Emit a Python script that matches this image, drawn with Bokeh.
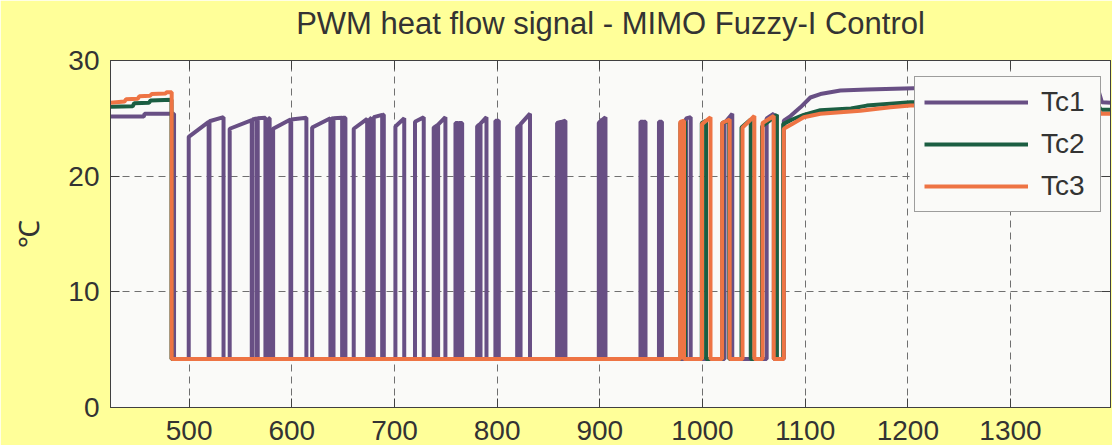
from bokeh.plotting import figure
from bokeh.models import Range1d, FixedTicker, LinearAxis, Legend, LegendItem
from bokeh.embed import file_html
from bokeh.resources import INLINE

# ---------------- data ----------------
title_text = "PWM heat flow signal - MIMO Fuzzy-I Control"
y_label = "℃"
x_ticks = [500, 600, 700, 800, 900, 1000, 1100, 1200, 1300]
y_ticks = [0, 10, 20, 30]
series_names = ["Tc1", "Tc2", "Tc3"]
low_level = 4.2

# Tc1
tc1_head_x = [423.4, 455.8, 456.6, 485.3]
tc1_head_y = [25.15, 25.15, 25.4, 25.4]
tc1_on = [499.6, 519.8, 539.5, 561.8, 566.8, 577.6, 581.8, 599.4, 619.8, 639.0,
          640.6, 649.6, 660.3, 676.3, 679.8, 688.6, 700.9, 720.0, 738.2, 742.5,
          759.4, 763.0, 780.5, 783.8, 798.3, 819.5, 822.8, 858.4, 862.8, 899.0,
          902.8, 939.6, 942.6, 957.6, 984.0, 1021.5, 1062.5]
tc1_off = [519.0, 533.5, 561.0, 566.0, 574.3, 578.4, 598.7, 614.2, 637.6, 639.6,
           649.0, 652.2, 673.4, 677.0, 688.0, 689.6, 709.5, 728.5, 741.8, 749.6,
           762.2, 765.9, 783.0, 789.6, 801.6, 822.0, 832.0, 862.0, 866.5, 902.0,
           905.5, 942.0, 944.5, 960.5, 988.5, 1029.0, 1069.5]
tc1_top_on = [23.4, 24.75, 24.1, 24.9, 25.0, 25.0, 24.1, 24.9, 24.2, 25.0,
              25.0, 25.05, 24.1, 25.0, 25.1, 25.3, 24.3, 24.7, 24.2, 24.45,
              24.6, 24.6, 24.3, 24.55, 24.8, 24.2, 24.5, 24.6, 24.7, 24.6,
              24.9, 24.7, 24.7, 24.7, 25.0, 24.6, 25.0]
tc1_top_off = [24.7, 25.1, 24.85, 25.0, 25.05, 25.0, 24.9, 25.05, 25.0, 25.0,
               25.05, 25.05, 24.95, 25.0, 25.3, 25.3, 25.0, 25.1, 24.4, 25.1,
               24.6, 24.6, 24.5, 25.1, 24.8, 24.4, 25.4, 24.7, 24.8, 24.9,
               25.1, 24.7, 24.7, 24.7, 25.1, 25.4, 25.4]
tc1_tail_x = [1079.2, 1085.7, 1095.4, 1105.1, 1114.8, 1134.3, 1160.3, 1205.5, 1385.0, 1389.0, 1398.0]
tc1_tail_y = [24.8, 25.2, 25.95, 26.8, 27.1, 27.4, 27.5, 27.6, 27.6, 26.4, 26.35]

# Tc2
tc2_head_x = [423.4, 445.0, 446.5, 461.0, 462.5, 482.8]
tc2_head_y = [26.0, 26.05, 26.3, 26.35, 26.55, 26.6]
tc2_on = [978.5, 999.3, 1019.3, 1038.0, 1058.0]
tc2_off = [983.0, 1003.5, 1026.0, 1047.0, 1072.5]
tc2_top_on = [24.6, 24.6, 24.6, 24.2, 24.3]
tc2_top_off = [24.7, 24.8, 24.8, 24.9, 25.3]
tc2_tail_x = [1078.6, 1087.3, 1098.6, 1114.8, 1144.6, 1160.0, 1202.5, 1383.0, 1388.0, 1398.0]
tc2_tail_y = [24.5, 24.9, 25.3, 25.7, 25.85, 26.1, 26.4, 26.5, 25.75, 25.75]

# Tc3
tc3_head_x = [423.4, 437.0, 438.5, 450.0, 451.5, 462.0, 463.5, 477.0, 478.0, 483.0]
tc3_head_y = [26.35, 26.45, 26.65, 26.7, 26.9, 26.95, 27.1, 27.15, 27.25, 27.25]
tc3_on = [978.3, 999.5, 1019.1, 1039.0, 1058.5]
tc3_off = [982.0, 1007.8, 1026.5, 1050.5, 1069.4]
tc3_top_on = [24.7, 24.5, 24.6, 24.2, 24.6]
tc3_top_off = [24.8, 25.1, 24.9, 25.2, 25.2]
tc3_tail_x = [1079.2, 1087.3, 1098.6, 1114.8, 1153.8, 1183.0, 1202.5, 1383.0, 1388.0, 1398.0]
tc3_tail_y = [24.1, 24.5, 25.1, 25.4, 25.65, 25.95, 26.1, 26.2, 25.4, 25.4]

colors = ["#684F84", "#1B5E42", "#EE7444"]


def build(head_x, head_y, on, off, top_on, top_off, tail_x, tail_y, low):
    xs = list(head_x) + [head_x[-1]]
    ys = list(head_y) + [low]
    for a, b, ya, yb in zip(on, off, top_on, top_off):
        xs += [a, a, b, b]
        ys += [low, ya, yb, low]
    xs += [tail_x[0]] + list(tail_x)
    ys += [low] + list(tail_y)
    return xs, ys


tc1_x, tc1_y = build(tc1_head_x, tc1_head_y, tc1_on, tc1_off, tc1_top_on, tc1_top_off,
                     tc1_tail_x, tc1_tail_y, low_level)
tc2_x, tc2_y = build(tc2_head_x, tc2_head_y, tc2_on, tc2_off, tc2_top_on, tc2_top_off,
                     tc2_tail_x, tc2_tail_y, low_level)
tc3_x, tc3_y = build(tc3_head_x, tc3_head_y, tc3_on, tc3_off, tc3_top_on, tc3_top_off,
                     tc3_tail_x, tc3_tail_y, low_level)

# ---------------- figure ----------------
FONT = "Liberation Sans"
TXT = "#333333"
AX = "#404040"

p = figure(width=1112, height=445, output_backend="svg", toolbar_location=None,
           x_range=Range1d(423.4, 1397.4), y_range=Range1d(0, 30),
           min_border_left=110, min_border_top=60, min_border_bottom=38, min_border_right=2,
           background_fill_color="#FAFAF8", border_fill_color="#FFFF99",
           outline_line_color=AX, outline_line_width=1)
p.title = None

# bottom / left axes
p.xaxis.ticker = FixedTicker(ticks=x_ticks)
p.yaxis.ticker = FixedTicker(ticks=y_ticks)
for ax in (p.xaxis[0], p.yaxis[0]):
    ax.major_label_text_font = FONT
    ax.major_label_text_font_size = "28px"
    ax.major_label_text_color = TXT
    ax.major_tick_in = 9
    ax.major_tick_out = 0
    ax.minor_tick_line_color = None
    ax.major_tick_line_color = AX
    ax.axis_line_color = AX
p.xaxis.major_label_standoff = 13
p.yaxis.major_label_standoff = 11
p.yaxis.axis_label = y_label
p.yaxis.axis_label_text_font = FONT
p.yaxis.axis_label_text_font_size = "28px"
p.yaxis.axis_label_text_font_style = "normal"
p.yaxis.axis_label_text_color = TXT
p.yaxis.axis_label_standoff = 20

# top axis: tick marks only, carries the chart title as its label
top_ax = LinearAxis(ticker=FixedTicker(ticks=x_ticks), major_label_text_font_size="1px",
                    major_label_text_color=None, major_label_standoff=0,
                    major_tick_in=9, major_tick_out=0,
                    minor_tick_line_color=None, major_tick_line_color=AX, axis_line_color=AX,
                    axis_label=title_text, axis_label_standoff=20,
                    axis_label_text_font=FONT, axis_label_text_font_size="31px",
                    axis_label_text_font_style="normal", axis_label_text_color=TXT)
right_ax = LinearAxis(ticker=FixedTicker(ticks=y_ticks), major_label_text_font_size="1px",
                      major_label_text_color=None, major_label_standoff=0,
                      major_tick_in=9, major_tick_out=0,
                      minor_tick_line_color=None, major_tick_line_color=AX, axis_line_color=AX)
p.add_layout(top_ax, "above")
p.add_layout(right_ax, "right")

# grid
for g in (p.xgrid[0], p.ygrid[0]):
    g.grid_line_color = "#707070"
    g.grid_line_dash = "7 5"
    g.grid_line_width = 1
p.xgrid.ticker = FixedTicker(ticks=x_ticks)
p.ygrid.ticker = FixedTicker(ticks=y_ticks)

# lines
r1 = p.line(tc1_x, tc1_y, line_color=colors[0], line_width=4)
r2 = p.line(tc2_x, tc2_y, line_color=colors[1], line_width=4)
r3 = p.line(tc3_x, tc3_y, line_color=colors[2], line_width=4)

legend = Legend(items=[LegendItem(label=series_names[0], renderers=[r1]),
                       LegendItem(label=series_names[1], renderers=[r2]),
                       LegendItem(label=series_names[2], renderers=[r3])],
                location=(804, 195),
                label_text_font=FONT, label_text_font_size="28px", label_text_color=TXT,
                glyph_width=104, glyph_height=30, label_height=30, label_width=50,
                label_standoff=13, spacing=10, padding=9, margin=0,
                border_line_color=AX, border_line_width=1,
                background_fill_color="#FAFAF8", background_fill_alpha=1.0)
p.add_layout(legend)

open("out.html", "w").write(file_html(p, INLINE))
